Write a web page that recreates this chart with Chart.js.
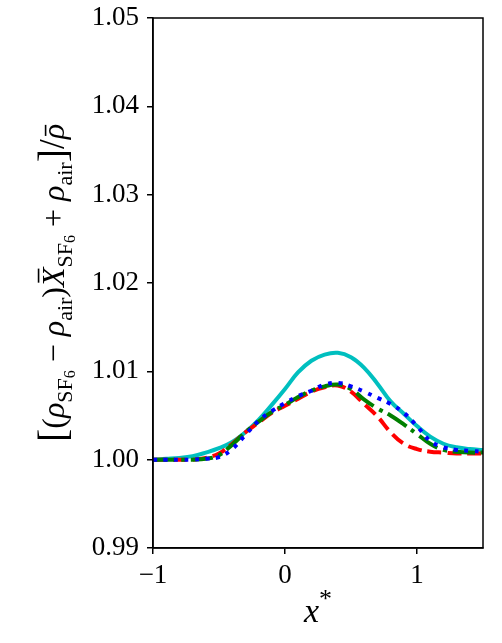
<!DOCTYPE html>
<html>
<head>
<meta charset="utf-8">
<script src="https://cdn.jsdelivr.net/npm/chart.js@4"></script>
<style>
  html, body { margin: 0; padding: 0; background: #fff; }
  #wrap { width: 502px; height: 643px; }
</style>
</head>
<body>
<div id="wrap"><canvas id="densityChart" width="502" height="643"></canvas></div>
<script>
// x* positions
const xStar = [-1.0, -0.9, -0.8, -0.7, -0.6, -0.5, -0.4, -0.3, -0.2, -0.1, 0.0, 0.1, 0.2,
  0.3, 0.4, 0.5, 0.6, 0.7, 0.8, 0.9, 1.0, 1.1, 1.2, 1.3, 1.4, 1.5];

const cyanSolid = [1.0000, 1.0001, 1.0002, 1.0004, 1.0008, 1.0013, 1.0020, 1.0031, 1.0045, 1.0062,
  1.0080, 1.0099, 1.0112, 1.0119, 1.0121, 1.0116, 1.0104, 1.0086, 1.0066, 1.0052,
  1.0038, 1.0026, 1.0018, 1.0014, 1.0012, 1.0011];
const redDashed = [1.0000, 1.0000, 1.0000, 1.0000, 1.0002, 1.0007, 1.0018, 1.0031, 1.0042, 1.0053,
  1.0061, 1.0069, 1.0077, 1.0082, 1.0084, 1.0077, 1.0063, 1.0049, 1.0031, 1.0018,
  1.0012, 1.0009, 1.0008, 1.0007, 1.0007, 1.0007];
const greenDashDot = [1.0000, 1.0000, 1.0000, 1.0000, 1.0001, 1.0005, 1.0017, 1.0031, 1.0043, 1.0054,
  1.0062, 1.0071, 1.0078, 1.0083, 1.0085, 1.0080, 1.0068, 1.0058, 1.0050, 1.0040,
  1.0029, 1.0018, 1.0011, 1.0009, 1.0008, 1.0008];
const blueDotted = [1.0000, 1.0000, 1.0000, 1.0000, 1.0001, 1.0003, 1.0012, 1.0028, 1.0044, 1.0055,
  1.0064, 1.0072, 1.0078, 1.0085, 1.0087, 1.0083, 1.0077, 1.0070, 1.0063, 1.0053,
  1.0038, 1.0021, 1.0014, 1.0011, 1.0010, 1.0009];

const yTicks = [0.99, 1.00, 1.01, 1.02, 1.03, 1.04, 1.05];
const xTicks = [-1, 0, 1];

const serif = "'Liberation Serif', 'DejaVu Serif', serif";

function pts(ys) {
  return xStar.map((x, i) => ({ x: x, y: ys[i] }));
}

// matplotlib-like frame on all four sides
const framePlugin = {
  id: 'frame',
  afterDraw(chart) {
    const { ctx, chartArea: a } = chart;
    ctx.save();
    ctx.strokeStyle = '#000';
    ctx.lineWidth = 1.5;
    ctx.strokeRect(a.left, a.top, a.right - a.left, a.bottom - a.top);
    ctx.restore();
  }
};

// axis titles with sub/superscripts and overbars
function drawRuns(ctx, runs, size) {
  let total = 0;
  runs.forEach(r => {
    ctx.font = (r.it ? 'italic ' : '') + Math.round(size * (r.s || 1)) + 'px ' + serif;
    r.w = ctx.measureText(r.t).width;
    total += r.w;
  });
  let x = -total / 2;
  runs.forEach(r => {
    const fs = Math.round(size * (r.s || 1));
    ctx.font = (r.it ? 'italic ' : '') + fs + 'px ' + serif;
    const y = (r.dy || 0) * size;
    ctx.fillText(r.t, x, y);
    if (r.bar) {
      const top = y - fs * r.bar;
      ctx.fillRect(x + r.w * 0.22, top, r.w * 0.72, Math.max(1.5, fs * 0.05));
    }
    x += r.w;
  });
}

const titlePlugin = {
  id: 'titles',
  afterDraw(chart) {
    const { ctx, chartArea: a } = chart;
    ctx.save();
    ctx.fillStyle = '#000';
    ctx.textBaseline = 'alphabetic';
    ctx.textAlign = 'left';

    // y title
    ctx.save();
    ctx.translate(64, (a.top + a.bottom) / 2);
    ctx.rotate(-Math.PI / 2);
    const sub = { s: 0.7, dy: 0.25 };
    const sub2 = { s: 0.5, dy: 0.35 };
    drawRuns(ctx, [
      { t: '[', s: 1.25, dy: 0.05 },
      { t: '(' },
      { t: 'ρ', it: true },
      Object.assign({ t: 'SF' }, sub),
      Object.assign({ t: '6' }, sub2),
      { t: ' − ' },
      { t: 'ρ', it: true },
      Object.assign({ t: 'air' }, sub),
      { t: ')' },
      { t: 'X', it: true, bar: 0.82 },
      Object.assign({ t: 'SF' }, sub),
      Object.assign({ t: '6' }, sub2),
      { t: ' + ' },
      { t: 'ρ', it: true },
      Object.assign({ t: 'air' }, sub),
      { t: ']', s: 1.25, dy: 0.05 },
      { t: '/', s: 1.1 },
      { t: 'ρ', it: true, bar: 0.6 }
    ], 32);
    ctx.restore();

    // x title
    ctx.save();
    ctx.translate((a.left + a.right) / 2, 622);
    drawRuns(ctx, [
      { t: 'x', it: true },
      { t: '*', s: 0.75, dy: -0.45 }
    ], 34);
    ctx.restore();

    ctx.restore();
  }
};

const lw = 4;

new Chart(document.querySelector('#densityChart'), {
  type: 'line',
  data: {
    datasets: [
      { data: pts(blueDotted), borderColor: '#0000ff', borderWidth: lw, borderDash: [4, 6.5] },
      { data: pts(greenDashDot), borderColor: '#008000', borderWidth: lw, borderDash: [22, 6, 4, 6] },
      { data: pts(redDashed), borderColor: '#ff0000', borderWidth: lw, borderDash: [14, 6] },
      { data: pts(cyanSolid), borderColor: '#00bfbf', borderWidth: lw }
    ]
  },
  options: {
    responsive: false,
    animation: false,
    events: [],
    layout: { padding: { left: 0, right: 19, top: 18, bottom: 0 } },
    elements: {
      point: { radius: 0 },
      line: { tension: 0.4, fill: false, borderCapStyle: 'butt' }
    },
    plugins: {
      legend: { display: false },
      tooltip: { enabled: false }
    },
    scales: {
      x: {
        type: 'linear',
        min: -1,
        max: 1.5,
        afterFit(scale) { scale.height = 95; scale.paddingLeft = 0; scale.paddingRight = 0; },
        afterBuildTicks(scale) { scale.ticks = xTicks.map(v => ({ value: v })); },
        ticks: {
          color: '#000',
          padding: 6,
          font: { family: serif, size: 27 },
          callback: v => (v < 0 ? '−' + Math.abs(v) : String(v))
        },
        grid: { drawOnChartArea: false, tickLength: 6, color: '#000', lineWidth: 1.5 },
        border: { color: '#000', width: 1.5 }
      },
      y: {
        min: 0.99,
        max: 1.05,
        afterFit(scale) { scale.width = 153; scale.paddingTop = 0; scale.paddingBottom = 0; },
        afterBuildTicks(scale) { scale.ticks = yTicks.map(v => ({ value: v })); },
        ticks: {
          color: '#000',
          padding: 8,
          font: { family: serif, size: 27 },
          callback: v => v.toFixed(2)
        },
        grid: { drawOnChartArea: false, tickLength: 6, color: '#000', lineWidth: 1.5 },
        border: { color: '#000', width: 1.5 }
      }
    }
  },
  plugins: [framePlugin, titlePlugin]
});
</script>
</body>
</html>
